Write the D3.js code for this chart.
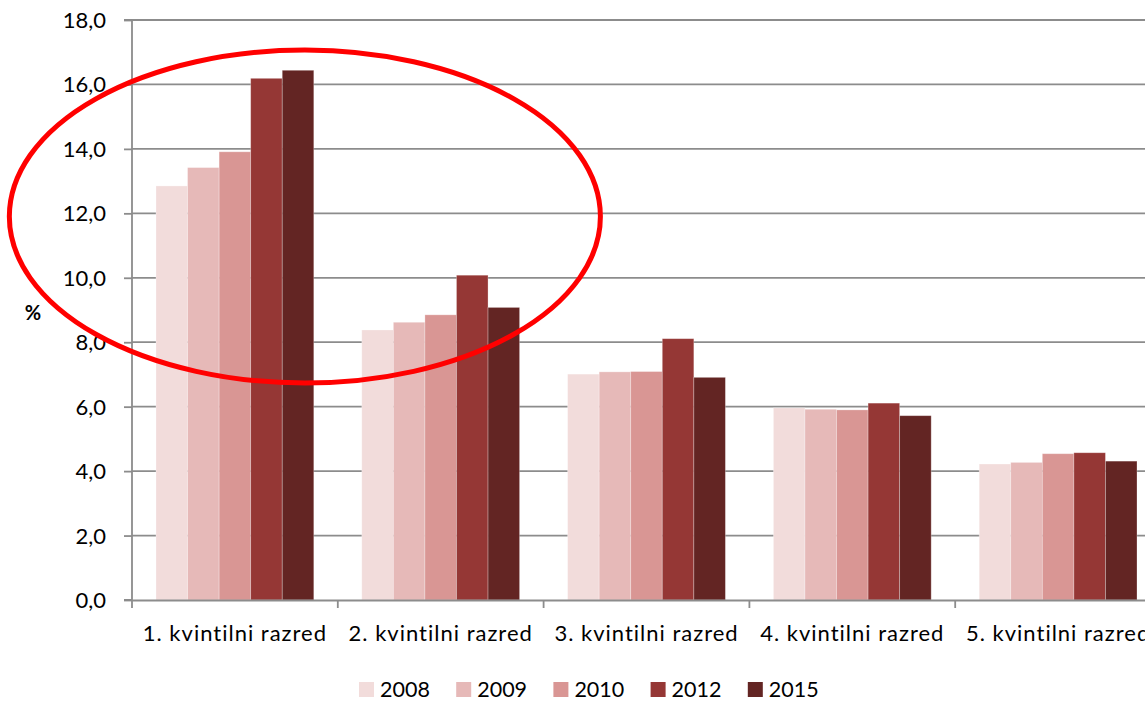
<!DOCTYPE html>
<html><head><meta charset="utf-8">
<script src="https://cdn.jsdelivr.net/npm/d3@7"></script>
<style>html,body{margin:0;padding:0;background:#fff;overflow:hidden}svg{display:block}</style>
</head><body>
<script>
const categories = ["1. kvintilni razred","2. kvintilni razred","3. kvintilni razred","4. kvintilni razred","5. kvintilni razred"];
const years = ["2008","2009","2010","2012","2015"];
const v2008 = [12.85, 8.38, 7.01, 5.96, 4.22];
const v2009 = [13.42, 8.62, 7.08, 5.92, 4.27];
const v2010 = [13.91, 8.85, 7.09, 5.90, 4.54];
const v2012 = [16.19, 10.08, 8.11, 6.11, 4.57];
const v2015 = [16.44, 9.08, 6.91, 5.72, 4.31];
const yTicks = [0,2,4,6,8,10,12,14,16,18];
const colors = ["#f2dcdb","#e6b9b8","#d99694","#953735","#632523"];
const series = [v2008, v2009, v2010, v2012, v2015];

(function(){
const W = 1145, H = 701;
const mLeft = 132, mTop = 20, mBottom = 600;
const catW = 205.8;
const svg = d3.select("body").append("svg").attr("width", W).attr("height", H);
const font = "Lato, 'Open Sans', sans-serif";

const x = d3.scaleBand().domain(categories).range([mLeft, mLeft + catW*categories.length]).padding(0);
const xi = d3.scaleBand().domain(years).range([24, x.bandwidth()-24]).padding(0);
const y = d3.scaleLinear().domain([0,18]).range([mBottom, mTop]);

// gridlines
svg.append("g").selectAll("line").data(yTicks.filter(d=>d>0)).join("line")
  .attr("x1", mLeft).attr("x2", W).attr("y1", d=>y(d)).attr("y2", d=>y(d))
  .attr("stroke", "#8c8c8c").attr("stroke-width", 1.8);

// bars
const g = svg.append("g");
years.forEach((yr, si) => {
  g.selectAll(null).data(series[si].map((v,i)=>({c:categories[i], v}))).join("rect")
    .attr("x", d => x(d.c) + xi(yr))
    .attr("width", xi.bandwidth())
    .attr("y", d => y(d.v))
    .attr("height", d => y(0) - y(d.v))
    .attr("fill", colors[si])
    .attr("stroke", "rgba(255,255,255,0.35)").attr("stroke-width", 0.8);
});

// y axis
const yAxis = d3.axisLeft(y).tickValues(yTicks).tickSize(8).tickPadding(18)
  .tickFormat(d => d3.format(".1f")(d).replace(".", ","));
const ya = svg.append("g").attr("transform", `translate(${mLeft},0)`).call(yAxis);
ya.select(".domain").attr("stroke", "#8c8c8c").attr("stroke-width", 1.8).attr("d", `M-8,${mTop}H0V${mBottom}H-8`);
ya.selectAll(".tick line").attr("stroke", "#8c8c8c").attr("stroke-width", 1.8);
ya.selectAll(".tick text").attr("font-family", font).attr("font-size", 22).attr("fill", "#000").attr("dy", "0.34em");

// x axis
const xAxis = d3.axisBottom(x).tickSize(0).tickPadding(25);
const xa = svg.append("g").attr("transform", `translate(0,${mBottom})`).call(xAxis);
xa.select(".domain").attr("stroke", "#8c8c8c").attr("stroke-width", 1.8);
xa.selectAll(".tick text").attr("font-family", font).attr("font-size", 22).attr("letter-spacing", "1px").attr("fill", "#000");
svg.append("g").selectAll("line").data(categories.concat(["end"])).join("line")
  .attr("x1", (d,i)=> mLeft + i*x.step()).attr("x2", (d,i)=> mLeft + i*x.step())
  .attr("y1", mBottom).attr("y2", mBottom+8)
  .attr("stroke", "#8c8c8c").attr("stroke-width", 1.8);

// % label
svg.append("text").attr("x", 33).attr("y", y(8.9)).attr("dy", "0.35em")
  .attr("text-anchor", "middle").attr("font-family", font).attr("font-weight", "bold")
  .attr("font-size", 20).text("%");

// legend
const lg = svg.append("g").attr("transform", "translate(359,682)");
years.forEach((yr, i) => {
  const it = lg.append("g").attr("transform", `translate(${i*97.2},0)`);
  it.append("rect").attr("width", 15).attr("height", 15).attr("fill", colors[i]);
  it.append("text").attr("x", 21).attr("y", 7.5).attr("dy", "0.36em")
    .attr("font-family", font).attr("font-size", 21.5).text(yr);
});

// annotation ellipse
svg.append("ellipse")
  .attr("cx", x(categories[0]) + x.bandwidth()*0.84)
  .attr("cy", y(11.9))
  .attr("rx", x.bandwidth()*1.436)
  .attr("ry", (y(0)-y(18))*0.287)
  .attr("fill", "none").attr("stroke", "#ff0000").attr("stroke-width", 5);
})();
</script>
</body></html>
